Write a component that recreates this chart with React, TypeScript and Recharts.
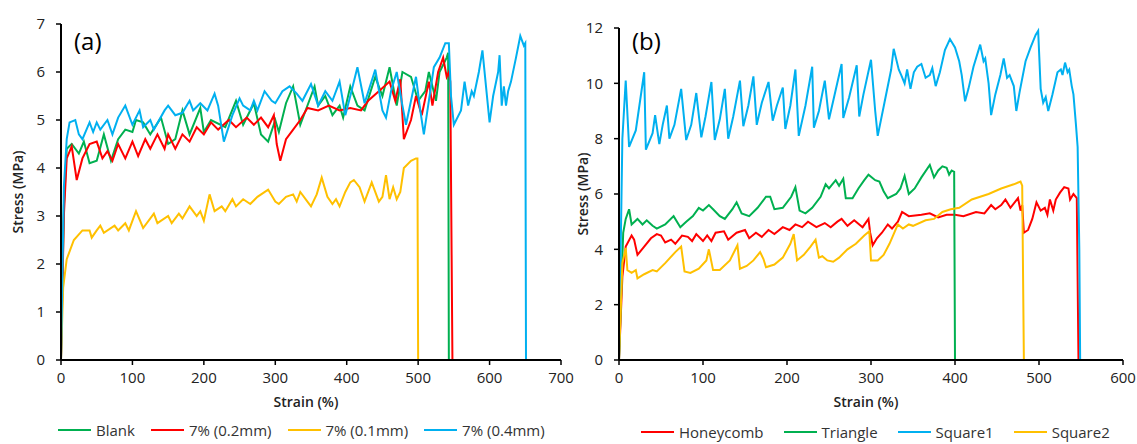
import React from 'react'
import { LineChart, Line, XAxis, YAxis, Label } from 'recharts'

// (a) strain (%) / stress (MPa) pairs
const blank: [number, number][] = [
  [0, 0], [4, 3.2], [8, 4.4], [15, 4.5], [25, 4.3], [32, 4.55], [40, 4.1], [50, 4.15], [60, 4.7], [70, 4.15],
  [80, 4.6], [90, 4.8], [100, 4.75], [105, 5.0], [115, 4.95], [125, 4.7], [140, 5.05], [150, 4.5], [160, 4.6],
  [170, 5.2], [180, 4.7], [195, 5.25], [200, 4.75], [210, 5.0], [230, 4.85], [245, 5.4], [255, 4.9], [270, 5.35],
  [280, 4.7], [290, 4.55], [300, 5.0], [305, 4.75], [315, 5.35], [325, 5.7], [335, 4.9], [350, 5.5], [355, 5.7],
  [360, 5.3], [370, 5.5], [380, 5.1], [390, 5.3], [395, 5.05], [405, 5.7], [415, 5.3], [425, 5.2], [440, 5.9],
  [450, 5.5], [460, 6.1], [470, 5.3], [478, 6.0], [490, 5.9], [500, 5.4], [510, 5.6], [515, 6.0], [525, 5.4],
  [530, 6.0], [540, 6.3], [542, 6.4], [543, 0],
]
const pct02: [number, number][] = [
  [0, 0], [4, 3.0], [8, 4.2], [15, 4.45], [22, 3.75], [30, 4.2], [40, 4.5], [50, 4.55], [58, 4.2], [65, 4.35],
  [72, 4.15], [80, 4.5], [90, 4.2], [100, 4.55], [108, 4.25], [118, 4.6], [125, 4.4], [135, 4.7], [145, 4.4],
  [150, 4.7], [160, 4.4], [170, 4.7], [180, 4.55], [190, 4.85], [200, 4.7], [210, 4.95], [220, 4.8], [235, 5.0],
  [245, 4.85], [260, 5.05], [270, 4.9], [280, 5.05], [290, 4.85], [298, 5.1], [302, 4.5], [307, 4.15], [315, 4.6],
  [325, 4.8], [335, 5.0], [345, 5.25], [360, 5.2], [375, 5.3], [390, 5.2], [405, 5.25], [420, 5.2], [430, 5.4],
  [445, 5.6], [460, 5.8], [468, 5.4], [475, 5.85], [480, 4.6], [490, 5.0], [497, 5.5], [505, 5.1], [515, 5.8],
  [520, 5.3], [528, 6.0], [535, 6.3], [540, 5.9], [543, 6.0], [545, 5.8], [548, 0],
]
const pct01: [number, number][] = [
  [0, 0], [3, 1.5], [8, 2.1], [18, 2.5], [30, 2.7], [40, 2.7], [43, 2.55], [50, 2.7], [55, 2.8], [60, 2.65],
  [75, 2.8], [80, 2.7], [90, 2.85], [95, 2.7], [105, 3.1], [115, 2.75], [130, 3.05], [135, 2.85], [150, 3.0],
  [155, 2.85], [165, 3.05], [170, 2.95], [180, 3.2], [190, 3.0], [195, 3.1], [200, 2.9], [208, 3.45], [215, 3.1],
  [225, 3.2], [230, 3.1], [240, 3.35], [245, 3.2], [255, 3.35], [265, 3.25], [275, 3.4], [290, 3.55], [300, 3.3],
  [305, 3.25], [315, 3.4], [325, 3.45], [330, 3.3], [335, 3.5], [345, 3.3], [350, 3.2], [358, 3.45], [365, 3.8],
  [373, 3.4], [380, 3.25], [385, 3.35], [390, 3.2], [398, 3.5], [405, 3.7], [410, 3.75], [418, 3.6], [425, 3.3],
  [435, 3.7], [445, 3.3], [450, 3.4], [455, 3.85], [460, 3.35], [465, 3.6], [470, 3.35], [475, 3.5], [480, 4.0],
  [490, 4.15], [497, 4.2], [499, 4.2], [500, 0],
]
const pct04: [number, number][] = [
  [0, 0], [4, 3.6], [8, 4.6], [12, 4.95], [20, 5.0], [25, 4.7], [30, 4.6], [40, 4.95], [45, 4.75], [50, 4.95],
  [55, 4.8], [65, 5.0], [72, 4.7], [80, 5.05], [90, 5.3], [100, 4.9], [110, 5.2], [115, 4.85], [125, 5.0],
  [130, 4.8], [145, 5.2], [150, 5.3], [160, 5.1], [170, 5.15], [180, 5.4], [185, 5.2], [195, 5.35], [205, 5.2],
  [215, 5.55], [220, 5.3], [228, 4.55], [240, 5.1], [250, 5.45], [255, 5.3], [265, 5.2], [270, 5.4], [275, 5.2],
  [285, 5.6], [295, 5.4], [300, 5.35], [310, 5.6], [320, 5.7], [330, 5.55], [338, 5.4], [350, 5.75], [360, 5.3],
  [370, 5.6], [380, 5.4], [390, 5.8], [398, 5.1], [405, 5.5], [415, 6.1], [425, 5.35], [440, 6.05], [450, 5.2],
  [455, 5.05], [462, 5.6], [470, 6.0], [478, 5.3], [483, 4.9], [490, 5.4], [497, 5.9], [503, 5.2], [508, 4.7],
  [515, 5.4], [522, 6.1], [530, 6.3], [538, 6.6], [543, 6.6], [546, 5.5], [550, 4.9], [560, 5.2], [565, 5.8],
  [570, 5.3], [575, 5.6], [578, 5.5], [585, 6.0], [590, 6.45], [597, 5.4], [600, 4.95], [605, 5.5], [612, 6.0],
  [614, 6.35], [617, 5.3], [620, 5.7], [623, 5.3], [626, 5.6], [630, 5.8], [637, 6.3], [643, 6.75], [648, 6.55],
  [650, 6.6], [651, 0],
]

// (b)
const honeycomb: [number, number][] = [
  [0, 0], [4, 3.0], [8, 4.1], [15, 4.5], [18, 4.35], [22, 3.8], [30, 4.1], [38, 4.4], [45, 4.55], [50, 4.5],
  [55, 4.25], [62, 4.35], [67, 4.2], [75, 4.5], [82, 4.45], [87, 4.3], [92, 4.55], [100, 4.3], [105, 4.5],
  [110, 4.3], [115, 4.6], [125, 4.65], [130, 4.35], [140, 4.6], [150, 4.7], [155, 4.4], [163, 4.6], [170, 4.45],
  [178, 4.7], [185, 4.55], [195, 4.8], [203, 4.7], [210, 4.9], [218, 4.8], [225, 5.0], [235, 4.8], [245, 4.95],
  [252, 4.8], [260, 5.0], [265, 5.1], [272, 4.85], [280, 5.05], [290, 4.8], [297, 5.1], [299, 4.6], [302, 4.15],
  [307, 4.4], [313, 4.6], [320, 4.9], [325, 4.75], [332, 5.0], [337, 5.35], [345, 5.2], [360, 5.25], [370, 5.3],
  [380, 5.15], [390, 5.25], [400, 5.25], [410, 5.2], [425, 5.35], [435, 5.3], [443, 5.6], [448, 5.45], [455, 5.6],
  [460, 5.8], [466, 5.5], [475, 5.85], [478, 5.4], [480, 5.6], [482, 4.6], [487, 4.7], [492, 5.1], [497, 5.7],
  [502, 5.4], [507, 5.5], [510, 5.25], [513, 5.8], [517, 5.4], [520, 5.8], [525, 6.05], [530, 6.25], [535, 6.2],
  [537, 5.8], [541, 6.0], [545, 5.85], [547, 0],
]
const triangle: [number, number][] = [
  [0, 0], [5, 4.6], [8, 5.1], [12, 5.45], [15, 4.9], [22, 5.1], [28, 4.9], [33, 5.05], [40, 4.85], [45, 4.75],
  [55, 4.9], [65, 5.2], [73, 4.8], [80, 5.0], [88, 5.2], [95, 5.5], [100, 5.4], [107, 5.6], [112, 5.45],
  [120, 5.2], [126, 5.1], [135, 5.45], [140, 5.7], [146, 5.3], [155, 5.2], [165, 5.5], [175, 5.9], [180, 5.9],
  [185, 5.45], [195, 5.5], [205, 5.9], [210, 6.25], [215, 5.4], [222, 5.3], [230, 5.5], [240, 5.9], [246, 6.35],
  [250, 6.2], [258, 6.5], [262, 6.3], [267, 6.55], [270, 5.85], [278, 5.85], [285, 6.2], [292, 6.5], [297, 6.7],
  [305, 6.5], [310, 6.45], [315, 6.1], [320, 5.85], [330, 6.0], [335, 6.2], [340, 6.65], [345, 6.0], [352, 6.2],
  [360, 6.6], [370, 7.05], [375, 6.6], [380, 6.85], [385, 7.0], [390, 6.95], [393, 6.7], [396, 6.85], [399, 6.8],
  [400, 0],
]
const square1: [number, number][] = [
  [0, 0], [4, 8.0], [8, 10.1], [12, 7.7], [20, 8.3], [30, 10.4], [32, 7.6], [40, 8.2], [43, 8.85], [48, 7.8],
  [52, 8.5], [57, 9.2], [60, 8.0], [66, 8.5], [74, 9.8], [80, 7.95], [86, 8.5], [92, 9.65], [98, 8.05],
  [103, 8.8], [110, 10.05], [114, 7.95], [120, 8.7], [126, 9.8], [130, 8.0], [136, 8.8], [144, 10.1], [148, 8.45],
  [154, 9.2], [160, 10.25], [164, 8.5], [170, 9.3], [178, 10.05], [183, 8.65], [188, 9.2], [195, 9.85],
  [198, 8.35], [204, 9.2], [210, 10.5], [214, 8.1], [222, 9.2], [230, 10.6], [232, 8.4], [238, 9.0], [245, 10.1],
  [250, 8.7], [256, 9.5], [265, 10.7], [267, 8.75], [274, 9.5], [283, 10.65], [286, 8.8], [291, 9.6],
  [300, 10.85], [305, 9.0], [308, 8.1], [316, 9.3], [324, 10.5], [327, 11.25], [333, 10.5], [336, 10.3],
  [340, 10.0], [343, 10.5], [347, 9.8], [351, 10.4], [355, 10.6], [360, 10.7], [365, 10.2], [370, 10.3],
  [373, 10.55], [377, 9.9], [382, 10.4], [388, 11.2], [394, 11.6], [400, 11.3], [405, 10.8], [408, 10.3],
  [412, 9.35], [416, 9.8], [422, 10.6], [430, 11.4], [434, 10.8], [436, 10.9], [440, 10.0], [443, 8.85],
  [448, 9.6], [454, 10.3], [458, 10.9], [462, 10.2], [465, 10.3], [470, 9.9], [473, 9.0], [477, 9.7],
  [484, 10.8], [490, 11.3], [496, 11.75], [499, 11.9], [502, 9.8], [505, 9.3], [508, 9.5], [511, 9.0],
  [516, 9.6], [522, 10.4], [526, 10.5], [528, 10.3], [531, 10.75], [534, 10.4], [536, 10.5], [539, 9.9],
  [541, 9.6], [544, 8.5], [546, 7.7], [548, 4.0], [549, 0],
]
const square2: [number, number][] = [
  [0, 0], [4, 3.5], [8, 4.05], [10, 3.25], [15, 3.15], [20, 3.25], [22, 2.95], [30, 3.1], [40, 3.25], [45, 3.2],
  [55, 3.5], [67, 3.9], [74, 4.1], [78, 3.2], [85, 3.15], [95, 3.3], [104, 3.6], [107, 4.0], [112, 3.25],
  [120, 3.25], [132, 3.6], [141, 4.15], [144, 3.3], [152, 3.4], [160, 3.6], [168, 3.9], [172, 3.65], [175, 3.35],
  [185, 3.45], [195, 3.7], [204, 4.2], [208, 4.55], [212, 3.6], [220, 3.8], [228, 4.1], [234, 4.35], [238, 3.7],
  [242, 3.75], [248, 3.6], [255, 3.55], [262, 3.7], [272, 4.0], [282, 4.2], [292, 4.5], [298, 4.65], [300, 3.6],
  [308, 3.6], [315, 3.8], [322, 4.2], [332, 4.9], [338, 4.75], [345, 4.9], [350, 4.85], [365, 5.05], [375, 5.1],
  [385, 5.35], [395, 5.45], [405, 5.5], [420, 5.8], [440, 6.0], [455, 6.2], [470, 6.35], [478, 6.45], [480, 6.3],
  [482, 0],
]

const ticksA_x = [0, 100, 200, 300, 400, 500, 600, 700]
const ticksA_y = [0, 1, 2, 3, 4, 5, 6, 7]
const ticksB_x = [0, 100, 200, 300, 400, 500, 600]
const ticksB_y = [0, 2, 4, 6, 8, 10, 12]

const GREEN = '#00B050'
const RED = '#FF0000'
const YELLOW = '#FFC000'
const BLUE = '#00B0F0'

const FONT = '"Open Sans", sans-serif'

const seriesA = [
  { name: 'Blank', color: GREEN, data: blank },
  { name: '7% (0.2mm)', color: RED, data: pct02 },
  { name: '7% (0.1mm)', color: YELLOW, data: pct01 },
  { name: '7% (0.4mm)', color: BLUE, data: pct04 },
]
const seriesB = [
  { name: 'Honeycomb', color: RED, data: honeycomb },
  { name: 'Triangle', color: GREEN, data: triangle },
  { name: 'Square1', color: BLUE, data: square1 },
  { name: 'Square2', color: YELLOW, data: square2 },
]

const toPts = (arr: [number, number][]) => arr.map(([x, y]) => ({ x, y }))

const tickStyle = { fill: '#222', fontSize: 15, fontFamily: FONT }
const titleStyle = { fill: '#222', fontSize: 14, fontFamily: FONT, fontWeight: 600 }

function Panel({ series, xTicks, yTicks, width, margin, yWidth, yLabelDx }: any) {
  return (
    <LineChart width={width} height={444} margin={margin}>
      <XAxis
        type="number"
        dataKey="x"
        domain={[xTicks[0], xTicks[xTicks.length - 1]]}
        ticks={xTicks}
        height={84}
        tick={tickStyle}
        tickSize={5}
        tickMargin={7}
        stroke="#000"
        strokeWidth={2}
        tickLine={{ stroke: '#000', strokeWidth: 1.5 }}
        interval={0}
      >
        <Label value="Strain (%)" position="center" dy={0} dx={-5} style={titleStyle} />
      </XAxis>
      <YAxis
        type="number"
        dataKey="y"
        domain={[yTicks[0], yTicks[yTicks.length - 1]]}
        ticks={yTicks}
        width={yWidth}
        tick={tickStyle}
        tickSize={5}
        tickMargin={11}
        stroke="#000"
        strokeWidth={2}
        tickLine={{ stroke: '#000', strokeWidth: 1.5 }}
        interval={0}
      >
        <Label value="Stress (MPa)" angle={-90} position="center" dx={yLabelDx} style={titleStyle} />
      </YAxis>
      {series.map((s: any) => (
        <Line
          key={s.name}
          data={toPts(s.data)}
          dataKey="y"
          type="linear"
          stroke={s.color}
          strokeWidth={2}
          dot={false}
          activeDot={false}
          isAnimationActive={false}
        />
      ))}
    </LineChart>
  )
}

function LegendRow({ series, left, top, gap }: any) {
  return (
    <div style={{ position: 'absolute', left, top, display: 'flex', alignItems: 'center', fontFamily: FONT, fontSize: 15, lineHeight: '18px', color: '#333' }}>
      {series.map((s: any) => (
        <div key={s.name} style={{ display: 'flex', alignItems: 'center', marginRight: gap }}>
          <div style={{ width: 33, height: 2, background: s.color, marginRight: 5 }} />
          <span>{s.name}</span>
        </div>
      ))}
    </div>
  )
}

export default function App() {
  return (
    <div style={{ position: 'absolute', left: 0, top: 0, width: 1137, height: 444, background: '#fff', overflow: 'hidden' }}>
      <div style={{ position: 'absolute', left: 0, top: 0 }}>
        <Panel
          series={seriesA}
          xTicks={ticksA_x}
          yTicks={ticksA_y}
          width={590}
          margin={{ top: 24, right: 29, bottom: 0, left: 0 }}
          yWidth={61}
          yLabelDx={-12}
        />
      </div>
      <div style={{ position: 'absolute', left: 570, top: 0 }}>
        <Panel
          series={seriesB}
          xTicks={ticksB_x}
          yTicks={ticksB_y}
          width={567}
          margin={{ top: 28, right: 14, bottom: 0, left: 0 }}
          yWidth={49}
          yLabelDx={-11}
        />
      </div>
      <div style={{ position: 'absolute', left: 74, top: 24, fontFamily: FONT, fontSize: 24, color: '#000' }}>(a)</div>
      <div style={{ position: 'absolute', left: 632, top: 24, fontFamily: FONT, fontSize: 24, color: '#000' }}>(b)</div>
      <LegendRow series={seriesA} left={58} top={421} gap={16} />
      <LegendRow series={seriesB} left={641} top={423} gap={20} />
    </div>
  )
}
